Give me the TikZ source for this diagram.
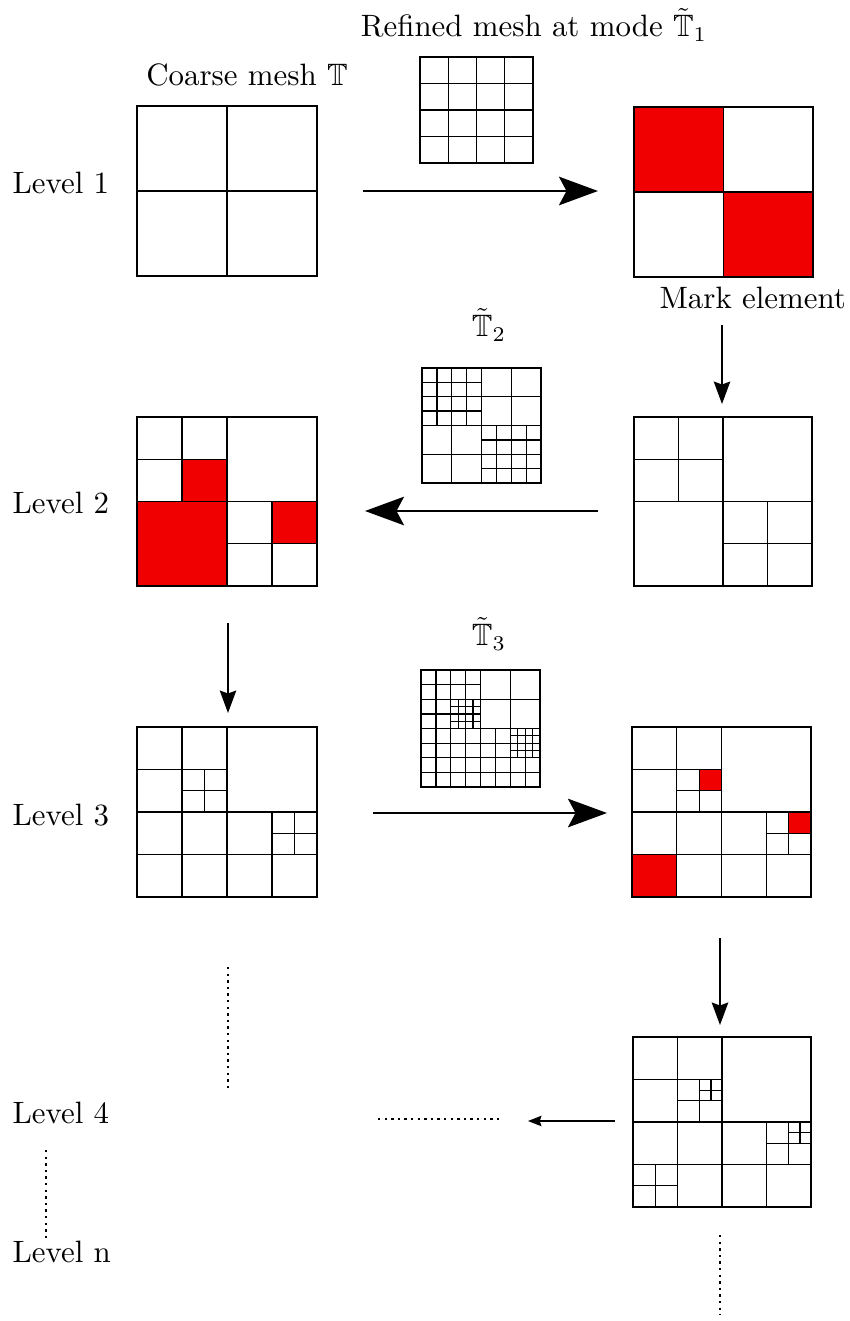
\documentclass[tikz,border=0pt]{standalone}
\usepackage{amssymb}
\usetikzlibrary{arrows.meta}
\definecolor{markred}{RGB}{240,0,0}
\tikzset{
  meshline/.style={line width=0.42pt},
  meshframe/.style={line width=0.6pt},
  marked/.style={fill=markred},
  meshat/.style n args={4}{shift={(#1,#2)}, x={(#3*0.3333pt,0pt)}, y={(0pt,-#4*0.3333pt)}},
  bigarrow/.style={line width=0.8pt, -{Stealth[length=13pt,width=9.5pt,inset=2.5pt]}},
  downarrow/.style={line width=0.45pt, -{Stealth[length=7.5pt,width=5.5pt,inset=1pt]}},
  thickdown/.style={line width=0.65pt, -{Stealth[length=7.5pt,width=5.5pt,inset=1pt]}},
  smallarrow/.style={line width=0.4pt, -{Stealth[length=4.5pt,width=3.5pt,inset=0.6pt]}},
  dotline/.style={line width=0.8pt, dash pattern=on 0.8pt off 1.4pt},
  lbl/.style={inner sep=0pt, font=\fontsize{10.3}{12.4}\selectfont}
}
% line patterns of the successive meshes, in unit-square coordinates
\newcommand\crossLines{%
  \draw[meshline] (0.5,0)--(0.5,1) (0,0.5)--(1,0.5);}
\newcommand\levelTwoLines{%
  \crossLines
  \draw[meshline] (0.25,0)--(0.25,0.5) (0,0.25)--(0.5,0.25)
                  (0.75,0.5)--(0.75,1) (0.5,0.75)--(1,0.75);}
\newcommand\levelThreeLines{%
  \crossLines
  \draw[meshline] (0.25,0)--(0.25,1) (0,0.25)--(0.5,0.25)
                  (0.375,0.25)--(0.375,0.5) (0.25,0.375)--(0.5,0.375)
                  (0,0.75)--(1,0.75) (0.75,0.5)--(0.75,1)
                  (0.875,0.5)--(0.875,0.75) (0.75,0.625)--(1,0.625);}
\newcommand\levelFourLines{%
  \levelThreeLines
  \draw[meshline] (0.4375,0.25)--(0.4375,0.375) (0.375,0.3125)--(0.5,0.3125)
                  (0.9375,0.5)--(0.9375,0.625) (0.875,0.5625)--(1,0.5625)
                  (0.125,0.75)--(0.125,1) (0,0.875)--(0.25,0.875);}
\newcommand\meshFrame{\draw[meshframe] (0,0) rectangle (1,1);}

\begin{document}
\begin{tikzpicture}[x=0.3333pt, y=-0.3333pt]
\useasboundingbox (0,0) rectangle (850,1321);

% ---- labels ----
\node[lbl] (t1) at (534,25) {Refined mesh at mode $\tilde{\mathbb{T}}_1$};
\node[lbl] (tc) at (247,75) {Coarse mesh $\mathbb{T}$};
\node[lbl, anchor=west] (lv1) at (12,183) {Level 1};
\node[lbl, anchor=west] (lv2) at (12,503) {Level 2};
\node[lbl, anchor=west] (lv3) at (12,815) {Level 3};
\node[lbl, anchor=west] (lv4) at (12,1113) {Level 4};
\node[lbl, anchor=west] (lvn) at (12,1252) {Level n};
\node[lbl, anchor=west] (mk) at (659,298) {Mark element};
\node[lbl] (t2) at (489,325) {$\tilde{\mathbb{T}}_2$};
\node[lbl] (t3) at (489,634) {$\tilde{\mathbb{T}}_3$};

% ---- level 1 ----
\begin{scope}[meshat={137}{106}{180}{170}]
  \crossLines \meshFrame
\end{scope}
\begin{scope}[meshat={634}{107}{179}{170}]
  \fill[marked] (0,0) rectangle (0.5,0.5);
  \fill[marked] (0.5,0.5) rectangle (1,1);
  \crossLines \meshFrame
\end{scope}
% uniform refinement T1
\begin{scope}[meshat={420}{57}{113}{106}]
  \draw[meshline] (0.25,0)--(0.25,1) (0.5,0)--(0.5,1) (0.75,0)--(0.75,1)
                  (0,0.25)--(1,0.25) (0,0.5)--(1,0.5) (0,0.75)--(1,0.75);
  \meshFrame
\end{scope}

% ---- level 2 ----
\begin{scope}[meshat={634}{417}{178}{169}]
  \levelTwoLines \meshFrame
\end{scope}
\begin{scope}[meshat={137}{417}{180}{169}]
  \fill[marked] (0.25,0.25) rectangle (0.5,0.5);
  \fill[marked] (0,0.5) rectangle (0.5,1);
  \fill[marked] (0.75,0.5) rectangle (1,0.75);
  \levelTwoLines \meshFrame
\end{scope}
% uniform refinement T2
\begin{scope}[meshat={422}{368}{119}{115}]
  \draw[meshline] (0.25,0)--(0.25,1) (0.5,0)--(0.5,1) (0.75,0)--(0.75,1)
                  (0,0.25)--(1,0.25) (0,0.5)--(1,0.5) (0,0.75)--(1,0.75)
                  (0.125,0)--(0.125,0.5) (0.375,0)--(0.375,0.5)
                  (0,0.125)--(0.5,0.125) (0,0.375)--(0.5,0.375)
                  (0.625,0.5)--(0.625,1) (0.875,0.5)--(0.875,1)
                  (0.5,0.625)--(1,0.625) (0.5,0.875)--(1,0.875);
  \meshFrame
\end{scope}

% ---- level 3 ----
\begin{scope}[meshat={137}{727}{180}{170}]
  \levelThreeLines \meshFrame
\end{scope}
\begin{scope}[meshat={632}{727}{179}{170}]
  \fill[marked] (0.375,0.25) rectangle (0.5,0.375);
  \fill[marked] (0.875,0.5) rectangle (1,0.625);
  \fill[marked] (0,0.75) rectangle (0.25,1);
  \levelThreeLines \meshFrame
\end{scope}
% uniform refinement T3
\begin{scope}[meshat={421}{670}{119}{117}]
  \draw[meshline] (0.25,0)--(0.25,1) (0.5,0)--(0.5,1) (0.75,0)--(0.75,1)
                  (0,0.25)--(1,0.25) (0,0.5)--(1,0.5) (0,0.75)--(1,0.75)
                  (0.125,0)--(0.125,1) (0.375,0)--(0.375,1)
                  (0.625,0.5)--(0.625,1) (0.875,0.5)--(0.875,1)
                  (0,0.125)--(0.5,0.125) (0,0.375)--(0.5,0.375)
                  (0,0.625)--(1,0.625) (0,0.875)--(1,0.875)
                  (0.3125,0.25)--(0.3125,0.5) (0.4375,0.25)--(0.4375,0.5)
                  (0.25,0.3125)--(0.5,0.3125) (0.25,0.4375)--(0.5,0.4375)
                  (0.8125,0.5)--(0.8125,0.75) (0.9375,0.5)--(0.9375,0.75)
                  (0.75,0.5625)--(1,0.5625) (0.75,0.6875)--(1,0.6875);
  \meshFrame
\end{scope}

% ---- level 4 ----
\begin{scope}[meshat={633}{1037}{178}{170}]
  \levelFourLines \meshFrame
\end{scope}

% ---- arrow end points ----
\coordinate (a1s) at (363,191);  \coordinate (a1e) at (598,191);
\coordinate (d1s) at (722,325);  \coordinate (d1e) at (722,404);
\coordinate (a2s) at (598,511);  \coordinate (a2e) at (365,511);
\coordinate (d2s) at (228,623);  \coordinate (d2e) at (228,713);
\coordinate (a3s) at (373,813);  \coordinate (a3e) at (607,813);
\coordinate (d3s) at (720,938);  \coordinate (d3e) at (720,1025);
\coordinate (a4s) at (615,1121); \coordinate (a4e) at (528,1121);

\draw[bigarrow] (a1s) -- (a1e);
\draw[downarrow] (d1s) -- (d1e);
\draw[bigarrow] (a2s) -- (a2e);
\draw[downarrow] (d2s) -- (d2e);
\draw[bigarrow] (a3s) -- (a3e);
\draw[thickdown] (d3s) -- (d3e);
\draw[smallarrow] (a4s) -- (a4e);

% ---- continuation dots ----
\coordinate (p1s) at (228,967);  \coordinate (p1e) at (228,1090);
\coordinate (p2s) at (378,1119); \coordinate (p2e) at (500,1119);
\coordinate (p3s) at (46,1150);  \coordinate (p3e) at (46,1240);
\coordinate (p4s) at (720,1235); \coordinate (p4e) at (720,1315);
\draw[dotline] (p1s) -- (p1e);
\draw[dotline] (p2s) -- (p2e);
\draw[dotline] (p3s) -- (p3e);
\draw[dotline] (p4s) -- (p4e);
\end{tikzpicture}
\end{document}
